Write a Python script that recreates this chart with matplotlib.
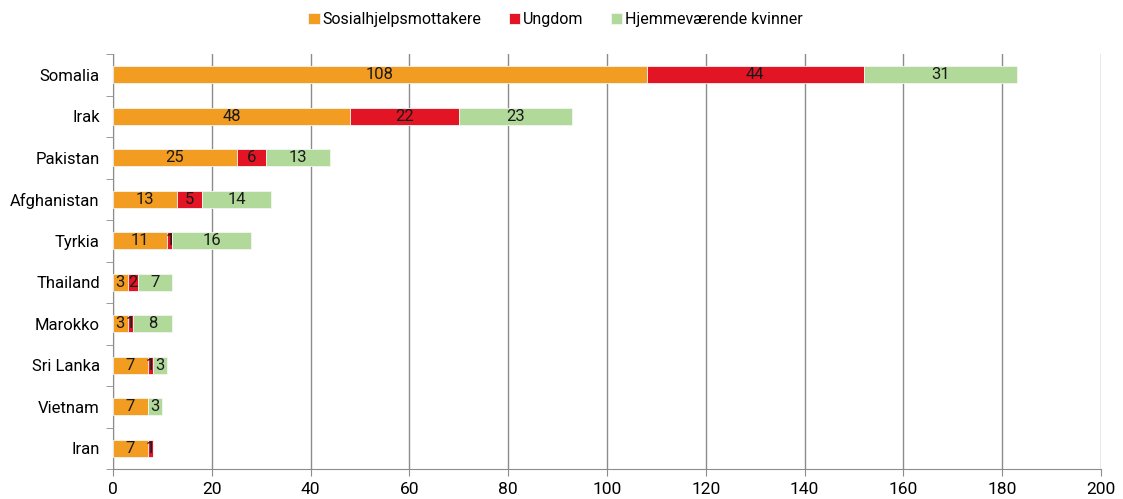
import numpy as np
import matplotlib.pyplot as plt

countries = ["Somalia", "Irak", "Pakistan", "Afghanistan", "Tyrkia",
             "Thailand", "Marokko", "Sri Lanka", "Vietnam", "Iran"]
sosial = [108, 48, 25, 13, 11, 3, 3, 7, 7, 7]
ungdom = [44, 22, 6, 5, 1, 2, 1, 1, 0, 1]
kvinner = [31, 23, 13, 14, 16, 7, 8, 3, 3, 0]

series = [("Sosialhjelpsmottakere", sosial, "#F39C22"),
          ("Ungdom", ungdom, "#E31424"),
          ("Hjemmeværende kvinner", kvinner, "#B0D99A")]

plt.rcParams["font.family"] = ["Roboto", "DejaVu Sans"]

fig = plt.figure(figsize=(11.23, 4.99), dpi=100, facecolor="white")
ax = fig.add_axes([113 / 1123, 1 - 469 / 499, 988 / 1123, 415 / 499])

y = np.arange(len(countries))
left = np.zeros(len(countries))
for name, vals, color in series:
    vals = np.array(vals, dtype=float)
    bars = ax.barh(y, vals, left=left, height=0.4, color=color,
                   edgecolor="#f4f4f4", linewidth=0.6, label=name, zorder=3)
    labels = [str(int(v)) if v > 0 else "" for v in vals]
    ax.bar_label(bars, labels=labels, label_type="center",
                 fontsize=12, color="#1a1a1a")
    left += vals

ax.set_xlim(0, 200)
ax.set_ylim(len(countries) - 0.5, -0.5)
ax.set_xticks(range(0, 201, 20))
ax.set_yticks(y)
ax.set_yticklabels(countries)
ax.set_yticks(np.arange(-0.5, len(countries), 1), minor=True)
ax.tick_params(axis="y", which="major", length=0, pad=9.5, labelsize=12)
ax.tick_params(axis="y", which="minor", length=5, color="#8c8c8c", direction="out")
ax.tick_params(axis="x", length=5, color="#8c8c8c", labelsize=12.5, pad=4)

ax.grid(True, axis="x", color="#8c8c8c", linewidth=1, zorder=0)
for s in ["top", "right"]:
    ax.spines[s].set_visible(False)
for s in ["left", "bottom"]:
    ax.spines[s].set_color("#8c8c8c")

ax.legend(loc="upper center", bbox_to_anchor=(0.448, 1.135), ncol=3,
          frameon=False, fontsize=11.5, handlelength=0.7, handleheight=0.7,
          handletextpad=0.2, columnspacing=1.7)

plt.savefig("out.png", dpi=100)
